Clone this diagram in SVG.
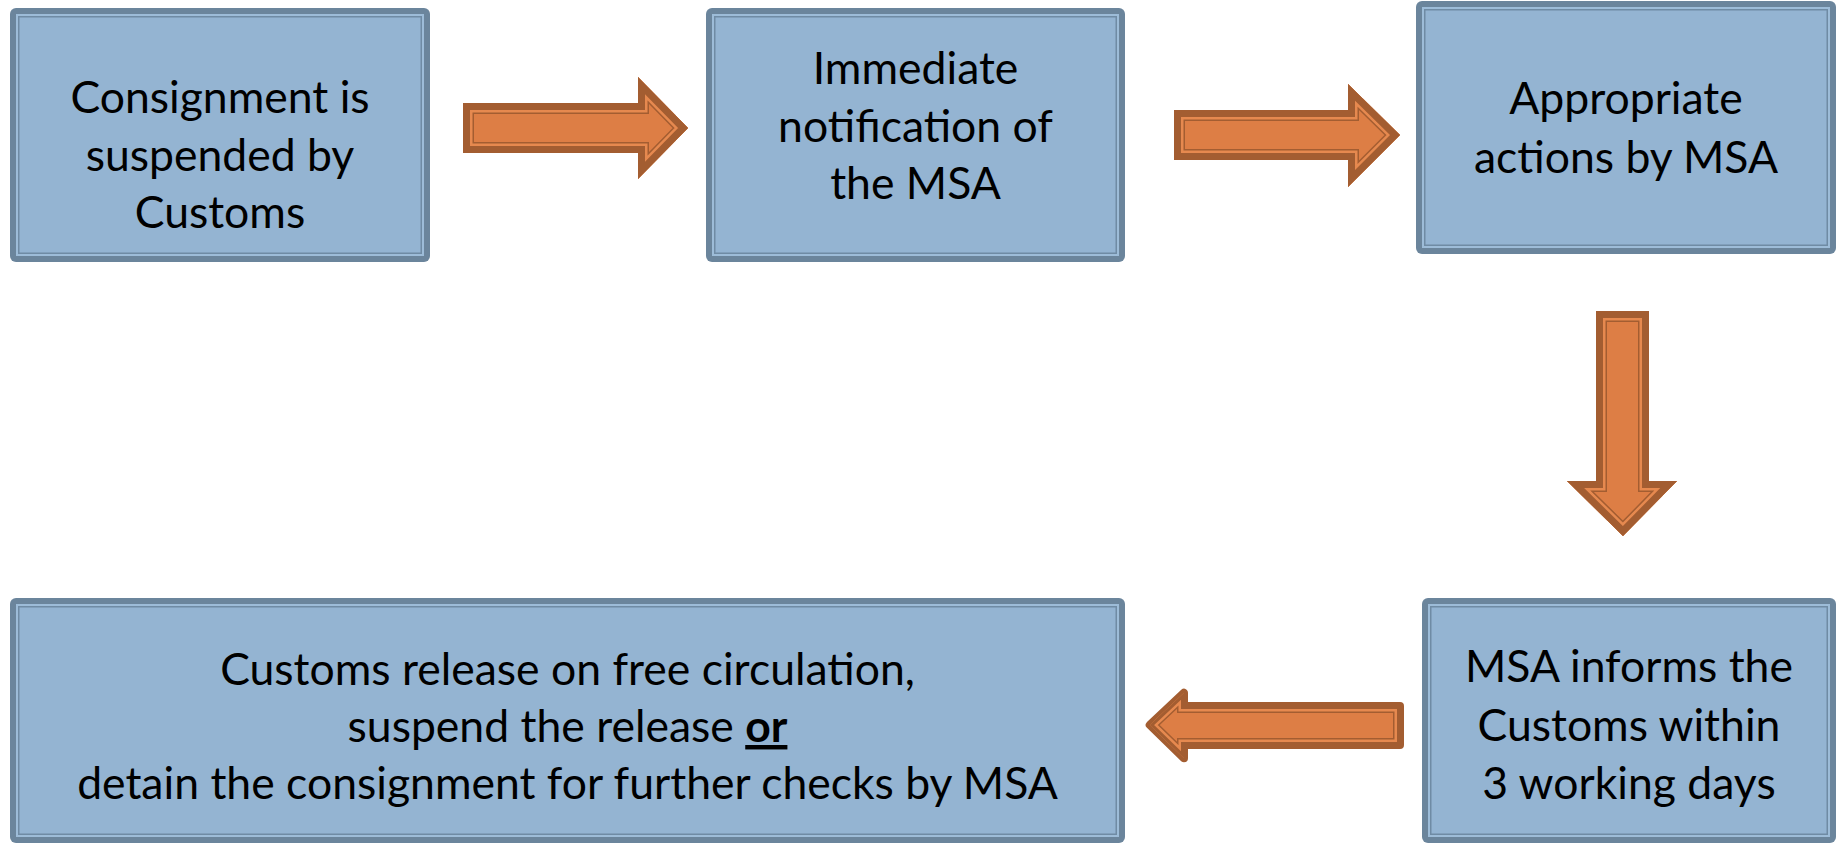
<svg xmlns="http://www.w3.org/2000/svg" width="1841" height="846" viewBox="0 0 1841 846">
<style>
  .b0{fill:#6b859c}
  .b1{fill:#9dbcd8}
  .b2{fill:#6f8ba4}
  .b3{fill:#94b4d2}
  .t{font-family:Lato,"Open Sans","Liberation Sans",sans-serif;font-size:44.5px;fill:#000;text-anchor:middle}
  .af{fill:#dd7e45}
  .s1{fill:none;stroke:#a35d31;stroke-width:22}
  .s2{fill:none;stroke:#e6894f;stroke-width:19}
  .s3{fill:none;stroke:#a35d31;stroke-width:14}
</style>
<defs>
  <polygon id="a1" points="463,103 638,103 638,77 688,128 638,179 638,153 463,153"/>
  <polygon id="a2" points="1174,110 1348,110 1348,84 1400,135 1348,187 1348,160 1174,160"/>
  <polygon id="a3" points="1596,311 1649,311 1649,481 1677,481 1623,536 1567,481 1596,481"/>
  <polygon id="a4" points="1149.7,725 1184,692.7 1184,706 1400,706 1400,745 1184,745 1184,758.3"/>
  <clipPath id="c1"><use href="#a1"/></clipPath>
  <clipPath id="c2"><use href="#a2"/></clipPath>
  <clipPath id="c3"><use href="#a3"/></clipPath>
  <clipPath id="c4"><use href="#a4"/></clipPath>
</defs>

<g id="connectors">
  <g id="arrow1">
    <use href="#a1" class="af"/>
    <g clip-path="url(#c1)"><use href="#a1" class="s1"/><use href="#a1" class="s2"/><use href="#a1" class="s3"/></g>
  </g>
  <g id="arrow2">
    <use href="#a2" class="af"/>
    <g clip-path="url(#c2)"><use href="#a2" class="s1"/><use href="#a2" class="s2"/><use href="#a2" class="s3"/></g>
  </g>
  <g id="arrow3">
    <use href="#a3" class="af"/>
    <g clip-path="url(#c3)"><use href="#a3" class="s1"/><use href="#a3" class="s2"/><use href="#a3" class="s3"/></g>
  </g>
  <g id="arrow4">
    <use href="#a4" fill="#a35d31" stroke="#a35d31" stroke-width="8" stroke-linejoin="round"/>
    <use href="#a4" class="af"/>
    <g clip-path="url(#c4)">
      <use href="#a4" fill="none" stroke="#a35d31" stroke-width="14"/>
      <use href="#a4" fill="none" stroke="#e6894f" stroke-width="11"/>
      <use href="#a4" fill="none" stroke="#a35d31" stroke-width="6"/>
    </g>
  </g>
</g>

<g id="node1">
  <rect class="b0" x="10" y="8" width="420" height="254" rx="6"/>
  <rect class="b1" x="16" y="14" width="408" height="242"/>
  <rect class="b2" x="18" y="16" width="404" height="238"/>
  <rect class="b3" x="19.5" y="17.5" width="401" height="235"/>
  <text class="t" x="220" y="113">Consignment is</text>
  <text class="t" x="220" y="171">suspended by</text>
  <text class="t" x="220" y="228">Customs</text>
</g>

<g id="node2">
  <rect class="b0" x="706" y="8" width="419" height="254" rx="6"/>
  <rect class="b1" x="712" y="14" width="407" height="242"/>
  <rect class="b2" x="714" y="16" width="403" height="238"/>
  <rect class="b3" x="715.5" y="17.5" width="400" height="235"/>
  <text class="t" x="915.5" y="84">Immediate</text>
  <text class="t" x="915.5" y="141.5">notification of</text>
  <text class="t" x="915.5" y="199">the MSA</text>
</g>

<g id="node3">
  <rect class="b0" x="1416" y="1" width="420" height="253" rx="6"/>
  <rect class="b1" x="1422" y="7" width="408" height="241"/>
  <rect class="b2" x="1424" y="9" width="404" height="237"/>
  <rect class="b3" x="1425.5" y="10.5" width="401" height="234"/>
  <text class="t" x="1626" y="114">Appropriate</text>
  <text class="t" x="1626" y="173">actions by MSA</text>
</g>

<g id="node4">
  <rect class="b0" x="1422" y="598" width="414" height="245" rx="6"/>
  <rect class="b1" x="1428" y="604" width="402" height="233"/>
  <rect class="b2" x="1430" y="606" width="398" height="229"/>
  <rect class="b3" x="1431.5" y="607.5" width="395" height="226"/>
  <text class="t" x="1629" y="682">MSA informs the</text>
  <text class="t" x="1629" y="741">Customs within</text>
  <text class="t" x="1629" y="799">3 working days</text>
</g>

<g id="node5">
  <rect class="b0" x="10" y="598" width="1115" height="245" rx="6"/>
  <rect class="b1" x="16" y="604" width="1103" height="233"/>
  <rect class="b2" x="18" y="606" width="1099" height="229"/>
  <rect class="b3" x="19.5" y="607.5" width="1096" height="226"/>
  <text class="t" x="567.5" y="685">Customs release on free circulation,</text>
  <text class="t" x="567.5" y="742">suspend the release <tspan font-weight="bold" text-decoration="underline">or</tspan></text>
  <text class="t" x="567.5" y="799">detain the consignment for further checks by MSA</text>
</g>
</svg>
